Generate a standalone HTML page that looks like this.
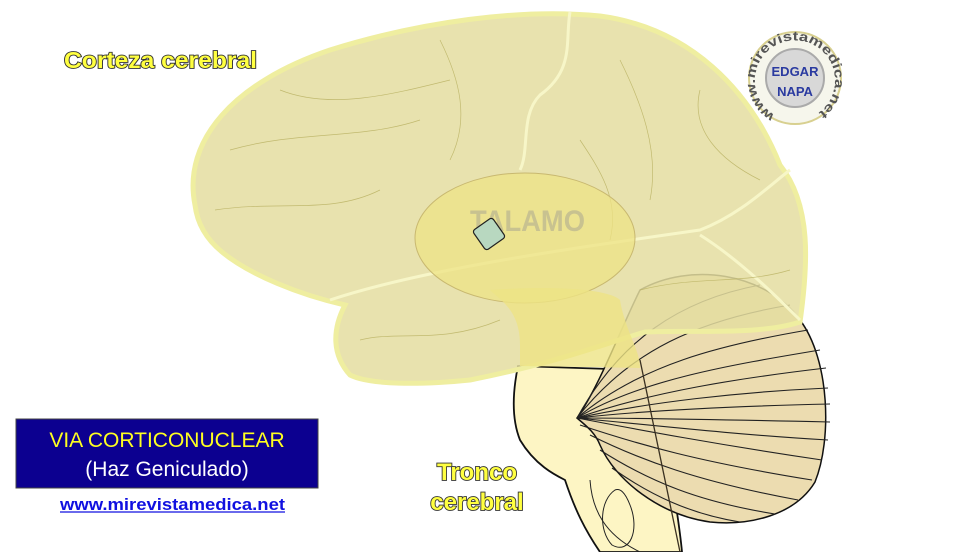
<!DOCTYPE html>
<html><head><meta charset="utf-8"><style>
html,body{margin:0;padding:0;background:#fff;width:980px;height:552px;overflow:hidden}
svg{position:absolute;left:0;top:0}
.lbl{font-family:"Liberation Sans",sans-serif;font-weight:bold;fill:#ffff40;stroke:#333;stroke-width:1.8px;paint-order:stroke}
</style></head><body>
<svg width="980" height="552" viewBox="0 0 980 552">
<defs><path id="ring" d="M775,115 A40,40 0 1,1 815,115"/></defs>
<!-- brainstem -->
<path d="M518,366 C512,395 512,420 520,440 C535,465 555,475 565,480 C575,510 585,530 600,552 L682,552 C680,530 676,505 672,480 L640,370 Z" fill="#fdf5c4" stroke="#111" stroke-width="1.8"/>
<path d="M615,490 C600,500 598,530 612,545 C630,555 640,530 630,505 C625,492 620,488 615,490Z" fill="none" stroke="#222" stroke-width="1"/>
<path d="M590,480 C592,510 605,535 640,552" fill="none" stroke="#222" stroke-width="1"/>
<!-- cerebellum -->
<path d="M577,418 C600,385 620,330 640,290 C690,262 765,272 800,320 C830,360 832,440 815,482 C795,515 750,526 710,522 C660,515 615,480 600,445 C595,432 585,425 577,418Z" fill="#ecdcb0" stroke="#111" stroke-width="1.5"/>
<g fill="none" stroke="#222" stroke-width="1.1">
<path d="M577,418 C620,340 680,300 760,285"/><path d="M577,418 C630,350 700,320 790,305"/>
<path d="M577,418 C640,365 720,345 808,330"/><path d="M577,418 C640,380 730,365 820,350"/>
<path d="M577,418 C650,392 740,378 826,368"/><path d="M577,418 C650,402 740,392 828,388"/>
<path d="M577,418 C650,410 740,406 830,404"/><path d="M577,418 C650,418 740,420 830,422"/>
<path d="M577,418 C650,425 740,435 828,440"/><path d="M577,418 C640,430 720,445 822,460"/>
<path d="M580,425 C640,445 700,462 812,480"/><path d="M590,435 C640,460 700,482 798,500"/>
<path d="M600,450 C650,482 700,502 775,514"/><path d="M612,468 C650,495 690,514 740,522"/>
<path d="M640,360 L680,552" stroke="#3a3020" stroke-width="1.3"/>
</g>
<!-- cerebrum -->
<path d="M195,205 C182,140 235,82 330,50 C420,22 520,8 600,16 C690,28 750,90 780,165 C812,205 808,265 800,322 C760,335 700,330 645,332 C600,345 560,362 470,380 C420,385 370,385 350,375 C332,355 332,330 345,305 C300,295 250,275 222,252 C205,238 197,222 195,205Z" fill="#e4dda0" fill-opacity="0.85" stroke="#efeea0" stroke-width="5"/>
<g fill="none" stroke="#f7f6c8" stroke-width="3">
<path d="M570,12 C565,40 575,70 540,95 C520,115 530,150 520,170"/>
<path d="M330,300 C420,270 560,250 700,230 C740,215 770,185 790,170"/>
<path d="M700,235 C740,260 780,300 800,320"/>
</g>
<g fill="none" stroke="#b8b060" stroke-width="0.7" opacity="0.8">
<path d="M230,150 C300,130 360,140 420,120"/><path d="M280,90 C330,110 390,95 450,80"/>
<path d="M215,210 C280,200 330,215 380,190"/><path d="M440,40 C460,80 470,120 450,160"/>
<path d="M620,60 C640,100 660,150 650,200"/><path d="M700,90 C690,130 720,160 760,180"/>
<path d="M360,340 C400,330 440,345 500,320"/><path d="M580,140 C600,170 620,200 610,240"/>
<path d="M640,290 C700,275 740,285 790,270"/>
</g>
<!-- thalamus -->
<ellipse cx="525" cy="238" rx="110" ry="65" fill="#eee385" fill-opacity="0.75" stroke="#c8b870" stroke-width="1"/>
<path d="M490,290 C500,300 520,310 520,345 L520,366 L640,368 C640,350 625,330 620,300 C610,290 560,285 490,290Z" fill="#eee385" fill-opacity="0.8"/>
<text x="470" y="231" font-family="Liberation Sans,sans-serif" font-weight="bold" font-size="30" fill="#c8c290" textLength="115" lengthAdjust="spacingAndGlyphs">TALAMO</text>
<rect x="477" y="222" width="24" height="24" rx="3" fill="#b8d8c0" stroke="#222" stroke-width="1.2" transform="rotate(-35 489 234)"/>
<!-- logo -->
<circle cx="795" cy="78" r="46" fill="#f6f6ec" stroke="#d8d090" stroke-width="2"/>
<text font-family="Liberation Sans,sans-serif" font-weight="bold" font-size="13" fill="#555" textLength="205" lengthAdjust="spacingAndGlyphs"><textPath href="#ring">www.mirevistamedica.net</textPath></text>
<circle cx="795" cy="78" r="29" fill="#d8d8d8" stroke="#aaa" stroke-width="2"/>
<text x="795" y="76" text-anchor="middle" font-family="Liberation Sans,sans-serif" font-weight="bold" font-size="13" fill="#2a3aa0">EDGAR</text>
<text x="795" y="96" text-anchor="middle" font-family="Liberation Sans,sans-serif" font-weight="bold" font-size="13" fill="#2a3aa0">NAPA</text>
<text class="lbl" x="64" y="68" font-size="23" textLength="193" lengthAdjust="spacingAndGlyphs">Corteza cerebral</text>
<text class="lbl" x="477" y="480" font-size="24" text-anchor="middle">Tronco</text>
<text class="lbl" x="477" y="510" font-size="24" text-anchor="middle">cerebral</text>
<!-- box -->
<rect x="16" y="419" width="302" height="69" fill="#0c0090" stroke="#444" stroke-width="1"/>
<text x="167" y="447" text-anchor="middle" font-family="Liberation Sans,sans-serif" font-size="21" fill="#ffff20">VIA  CORTICONUCLEAR</text>
<text x="167" y="476" text-anchor="middle" font-family="Liberation Sans,sans-serif" font-size="21" fill="#fff">(Haz Geniculado)</text>
<text x="60" y="510" font-family="Liberation Sans,sans-serif" font-weight="bold" font-size="17" fill="#1010e0" textLength="225" lengthAdjust="spacingAndGlyphs">www.mirevistamedica.net</text>
<line x1="60" y1="512" x2="285" y2="512" stroke="#1010e0" stroke-width="1.2"/>
</svg>
</body></html>
